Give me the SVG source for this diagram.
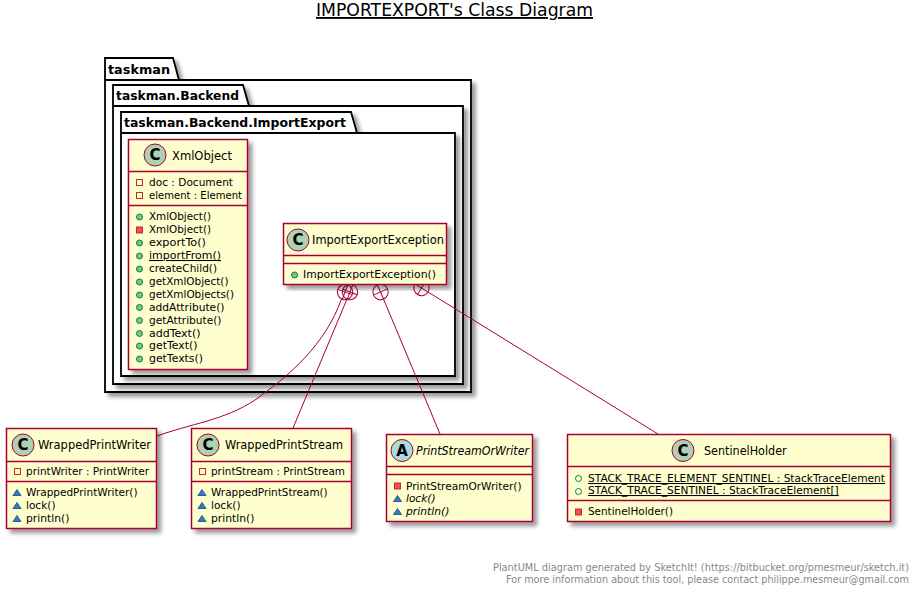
<svg xmlns="http://www.w3.org/2000/svg" width="920" height="595" viewBox="0 0 920 595">
<style>
text{font-family:"DejaVu Sans","Liberation Sans",sans-serif;fill:#000}
.m{font-size:10.4px}
.n{font-size:11.8px}
.i{font-style:italic}
.u{text-decoration:underline}
.pk{font-size:12.6px;font-weight:bold}
.box{fill:#FEFECE;stroke:#A80036;stroke-width:1.5;filter:url(#sh)}
.div{stroke:#A80036;stroke-width:1.5;fill:none}
.pkg{fill:#fff;stroke:#000;stroke-width:1.8;filter:url(#sh)}
.pl{fill:none;stroke:#000;stroke-width:1.8}
.spot{fill:#ADD1B2;stroke:#A80036;stroke-width:1}
.spotA{fill:#A9DCDF;stroke:#A80036;stroke-width:1}
.L{font-size:15px;font-weight:bold;text-anchor:middle}
.pubo{fill:#84BE84;stroke:#038048;stroke-width:1}
.pubh{fill:none;stroke:#038048;stroke-width:1}
.pri{fill:#F24D5C;stroke:#C82930;stroke-width:1}
.prih{fill:none;stroke:#C82930;stroke-width:1}
.pro{fill:#4177AF;stroke:#1963A0;stroke-width:1}
.c{fill:none;stroke:#A80036;stroke-width:1}
.f{font-size:9.700px;fill:#888}
</style>
<defs>
<filter id="sh" x="-5%" y="-5%" width="115%" height="115%"><feDropShadow dx="4" dy="4" stdDeviation="2" flood-color="#000" flood-opacity="0.4"/></filter>
</defs>
<text x="454.500" y="16" font-size="18.500" text-anchor="middle" class="u" textLength="277" lengthAdjust="spacingAndGlyphs">IMPORTEXPORT's Class Diagram</text>
<g id="pkg-taskman">
<path class="pkg" d="M105 80V58H173L179 80H471V392H105Z"/><path class="pl" d="M105 80H179"/>
<text class="pk" x="108" y="74" textLength="62" lengthAdjust="spacingAndGlyphs">taskman</text>
</g>
<g id="pkg-backend">
<path class="pkg" d="M113 106V85H243L249 106H463V384H113Z"/><path class="pl" d="M113 106H249"/>
<text class="pk" x="116" y="100" textLength="123" lengthAdjust="spacingAndGlyphs">taskman.Backend</text>
</g>
<g id="pkg-importexport">
<path class="pkg" d="M121 133V112H351L357 133H455V376H121Z"/><path class="pl" d="M121 133H357"/>
<text class="pk" x="124" y="127" textLength="222" lengthAdjust="spacingAndGlyphs">taskman.Backend.ImportExport</text>
</g>
<g id="connectors">
<path class="c" d="M341.500 299C325 345 290 375 255 400C225 420 190 424 157 436"/>
<path class="c" d="M347 299L293 428"/>
<path class="c" d="M383.500 299L440 434"/>
<path class="c" d="M428 292L658 434"/>
<g class="c">
<g transform="translate(345 292) rotate(20)"><circle r="7.700"/><path d="M-7.700 0H7.700M0 -7.700V7.700"/></g>
<g transform="translate(350 292) rotate(21)"><circle r="7.700"/><path d="M-7.700 0H7.700M0 -7.700V7.700"/></g>
<g transform="translate(380.500 292) rotate(-24)"><circle r="7.700"/><path d="M-7.700 0H7.700M0 -7.700V7.700"/></g>
<g transform="translate(421.500 288) rotate(-58)"><circle r="7.700"/><path d="M-7.700 0H7.700M0 -7.700V7.700"/></g>
</g>
</g>
<g id="XmlObject">
<rect class="box" x="128.500" y="139.500" width="119" height="230"/>
<circle class="spot" cx="155" cy="155" r="11"/><text class="L" x="155" y="160">C</text>
<text class="n" x="172" y="160" textLength="60" lengthAdjust="spacingAndGlyphs">XmlObject</text>
<path class="div" d="M128.500 171.500H247.500M128.500 205.500H247.500"/>
<rect class="prih" x="136.500" y="179.500" width="6" height="6"/><text class="m" x="149" y="186" textLength="84" lengthAdjust="spacingAndGlyphs">doc : Document</text>
<rect class="prih" x="136.500" y="192.500" width="6" height="6"/><text class="m" x="149" y="199" textLength="93" lengthAdjust="spacingAndGlyphs">element : Element</text>
<circle class="pubo" cx="139.500" cy="217" r="3"/><text class="m" x="149" y="220" textLength="62" lengthAdjust="spacingAndGlyphs">XmlObject()</text>
<rect class="pri" x="136.500" y="227" width="6" height="6"/><text class="m" x="149" y="233" textLength="62" lengthAdjust="spacingAndGlyphs">XmlObject()</text>
<circle class="pubo" cx="139.500" cy="243" r="3"/><text class="m" x="149" y="246" textLength="57" lengthAdjust="spacingAndGlyphs">exportTo()</text>
<circle class="pubo" cx="139.500" cy="256" r="3"/><text class="m u" x="149" y="259" textLength="72" lengthAdjust="spacingAndGlyphs">importFrom()</text>
<circle class="pubo" cx="139.500" cy="269" r="3"/><text class="m" x="149" y="272" textLength="68" lengthAdjust="spacingAndGlyphs">createChild()</text>
<circle class="pubo" cx="139.500" cy="282" r="3"/><text class="m" x="149" y="285" textLength="79.500" lengthAdjust="spacingAndGlyphs">getXmlObject()</text>
<circle class="pubo" cx="139.500" cy="295" r="3"/><text class="m" x="149" y="298" textLength="85" lengthAdjust="spacingAndGlyphs">getXmlObjects()</text>
<circle class="pubo" cx="139.500" cy="307.500" r="3"/><text class="m" x="149" y="311" textLength="75.500" lengthAdjust="spacingAndGlyphs">addAttribute()</text>
<circle class="pubo" cx="139.500" cy="320.500" r="3"/><text class="m" x="149" y="324" textLength="72.500" lengthAdjust="spacingAndGlyphs">getAttribute()</text>
<circle class="pubo" cx="139.500" cy="333.500" r="3"/><text class="m" x="149" y="337" textLength="51.500" lengthAdjust="spacingAndGlyphs">addText()</text>
<circle class="pubo" cx="139.500" cy="346" r="3"/><text class="m" x="149" y="349" textLength="48.500" lengthAdjust="spacingAndGlyphs">getText()</text>
<circle class="pubo" cx="139.500" cy="359" r="3"/><text class="m" x="149" y="362" textLength="54" lengthAdjust="spacingAndGlyphs">getTexts()</text>
</g>
<g id="ImportExportException">
<rect class="box" x="283.500" y="223.500" width="163" height="61"/>
<circle class="spot" cx="298" cy="240" r="11"/><text class="L" x="298" y="245">C</text>
<text class="n" x="312" y="244" textLength="132" lengthAdjust="spacingAndGlyphs">ImportExportException</text>
<path class="div" d="M283.500 255.500H446.500M283.500 263.500H446.500"/>
<circle class="pubo" cx="294.500" cy="275" r="3"/><text class="m" x="303" y="278" textLength="133" lengthAdjust="spacingAndGlyphs">ImportExportException()</text>
</g>
<g id="WrappedPrintWriter">
<rect class="box" x="6.500" y="428.500" width="150" height="100"/>
<circle class="spot" cx="23" cy="445" r="11"/><text class="L" x="23" y="450">C</text>
<text class="n" x="38" y="449" textLength="113" lengthAdjust="spacingAndGlyphs">WrappedPrintWriter</text>
<path class="div" d="M6.500 461.500H156.500M6.500 481.500H156.500"/>
<rect class="prih" x="14.500" y="468.500" width="6" height="6"/><text class="m" x="26" y="475" textLength="123" lengthAdjust="spacingAndGlyphs">printWriter : PrintWriter</text>
<path class="pro" d="M17 489.500L21 495.500H13Z"/><text class="m" x="26" y="496" textLength="111.500" lengthAdjust="spacingAndGlyphs">WrappedPrintWriter()</text>
<path class="pro" d="M17 502.500L21 508.500H13Z"/><text class="m" x="26" y="509" textLength="29.500" lengthAdjust="spacingAndGlyphs">lock()</text>
<path class="pro" d="M17 515.500L21 521.500H13Z"/><text class="m" x="26" y="522" textLength="43.500" lengthAdjust="spacingAndGlyphs">println()</text>
</g>
<g id="WrappedPrintStream">
<rect class="box" x="191.500" y="428.500" width="160" height="100"/>
<circle class="spot" cx="208" cy="445" r="11"/><text class="L" x="208" y="450">C</text>
<text class="n" x="225" y="449" textLength="118" lengthAdjust="spacingAndGlyphs">WrappedPrintStream</text>
<path class="div" d="M191.500 461.500H351.500M191.500 481.500H351.500"/>
<rect class="prih" x="199.500" y="468.500" width="6" height="6"/><text class="m" x="211" y="475" textLength="134" lengthAdjust="spacingAndGlyphs">printStream : PrintStream</text>
<path class="pro" d="M202 489.500L206 495.500H198Z"/><text class="m" x="211" y="496" textLength="116.700" lengthAdjust="spacingAndGlyphs">WrappedPrintStream()</text>
<path class="pro" d="M202 502.500L206 508.500H198Z"/><text class="m" x="211" y="509" textLength="29.500" lengthAdjust="spacingAndGlyphs">lock()</text>
<path class="pro" d="M202 515.500L206 521.500H198Z"/><text class="m" x="211" y="522" textLength="43.500" lengthAdjust="spacingAndGlyphs">println()</text>
</g>
<g id="PrintStreamOrWriter">
<rect class="box" x="386.500" y="434.500" width="146" height="87"/>
<circle class="spotA" cx="402" cy="450.500" r="11"/><text class="L" x="402" y="455.500">A</text>
<text class="n i" x="416" y="455" textLength="113" lengthAdjust="spacingAndGlyphs">PrintStreamOrWriter</text>
<path class="div" d="M386.500 466.500H532.500M386.500 474.500H532.500"/>
<rect class="pri" x="394.500" y="483" width="6" height="6"/><text class="m" x="406" y="490" textLength="115.500" lengthAdjust="spacingAndGlyphs">PrintStreamOrWriter()</text>
<path class="pro" d="M397.500 495.500L401.500 501.500H393.500Z"/><text class="m i" x="406" y="502" textLength="29.500" lengthAdjust="spacingAndGlyphs">lock()</text>
<path class="pro" d="M397.500 508.500L401.500 514.500H393.500Z"/><text class="m i" x="406" y="515" textLength="43.500" lengthAdjust="spacingAndGlyphs">println()</text>
</g>
<g id="SentinelHolder">
<rect class="box" x="567.500" y="434.500" width="323" height="87"/>
<circle class="spot" cx="683" cy="450.500" r="11"/><text class="L" x="683" y="455.500">C</text>
<text class="n" x="704" y="455" textLength="82.700" lengthAdjust="spacingAndGlyphs">SentinelHolder</text>
<path class="div" d="M567.500 466.500H890.500M567.500 500.500H890.500"/>
<circle class="pubh" cx="578.500" cy="478.500" r="3"/><text class="m u" x="588" y="482" textLength="297" lengthAdjust="spacingAndGlyphs">STACK_TRACE_ELEMENT_SENTINEL : StackTraceElement</text>
<circle class="pubh" cx="578.500" cy="491.500" r="3"/><text class="m u" x="588" y="494" textLength="250.700" lengthAdjust="spacingAndGlyphs">STACK_TRACE_SENTINEL : StackTraceElement[]</text>
<rect class="pri" x="575.500" y="509" width="6" height="6"/><text class="m" x="588" y="515" textLength="85" lengthAdjust="spacingAndGlyphs">SentinelHolder()</text>
</g>
<text class="f" x="493" y="571" textLength="416" lengthAdjust="spacingAndGlyphs">PlantUML diagram generated by SketchIt! (https://bitbucket.org/pmesmeur/sketch.it)</text>
<text class="f" x="506" y="583" textLength="403" lengthAdjust="spacingAndGlyphs">For more information about this tool, please contact philippe.mesmeur@gmail.com</text>
</svg>
